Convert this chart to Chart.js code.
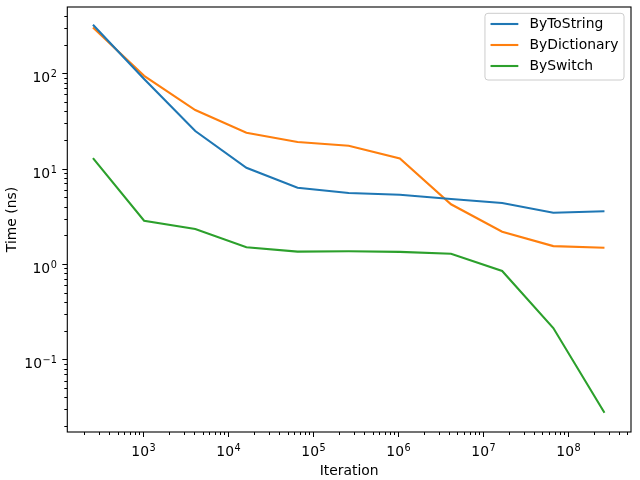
<!DOCTYPE html>
<html>
<head>
<meta charset="utf-8">
<script src="https://cdn.jsdelivr.net/npm/chart.js@4.4.1/dist/chart.umd.min.js"></script>
<style>
  html, body { margin: 0; padding: 0; background: #fff; }
  #wrap { width: 640px; height: 480px; position: relative; }
</style>
</head>
<body>
<div id="wrap"><canvas id="chart"></canvas></div>
<script>
const iterations = [256, 1024, 4096, 16384, 65536, 262144, 1048576, 4194304, 16777216, 67108864, 268435456];
const byToString = [323, 87, 24.8, 10.2, 6.3, 5.55, 5.33, 4.8, 4.36, 3.45, 3.57];
const byDictionary = [303, 94, 41.2, 23.8, 19.0, 17.4, 12.8, 4.23, 2.18, 1.54, 1.48];
const bySwitch = [12.9, 2.84, 2.33, 1.50, 1.35, 1.36, 1.34, 1.28, 0.845, 0.213, 0.0275];
const seriesNames = ['ByToString', 'ByDictionary', 'BySwitch'];
const seriesColors = ['#1f77b4', '#ff7f0e', '#2ca02c'];

const xRange = [127.7, 5.51e8];
const yRange = [0.0173, 496];

const FONT = 'DejaVu Sans';
const FS = 13.9;
const FS_EXP = 9.7;

// decade + minor ticks like matplotlib's LogLocator
const logTicks = (scale) => {
    const ticks = [];
    const lo = Math.floor(Math.log10(scale.min));
    const hi = Math.ceil(Math.log10(scale.max));
    for (let e = lo; e <= hi; e++) {
        for (let m = 1; m <= 9; m++) {
            const v = m * Math.pow(10, e);
            if (v >= scale.min && v <= scale.max) {
                ticks.push({ value: v, major: m === 1, exp: e });
            }
        }
    }
    scale.ticks = ticks;
};

// "10" with a raised, smaller exponent, like mathtext
const drawPow = (ctx, exp, x, baseline, align) => {
    const expStr = String(exp).replace('-', '\u2212');
    ctx.font = FS + 'px "' + FONT + '"';
    const wb = ctx.measureText('10').width;
    ctx.font = FS_EXP + 'px "' + FONT + '"';
    const we = ctx.measureText(expStr).width;
    const total = wb + we + 0.5;
    let left = align === 'right' ? x - total : x - total / 2;
    ctx.textAlign = 'left';
    ctx.textBaseline = 'alphabetic';
    ctx.font = FS + 'px "' + FONT + '"';
    ctx.fillText('10', left, baseline);
    ctx.font = FS_EXP + 'px "' + FONT + '"';
    ctx.fillText(expStr, left + wb + 0.5, baseline - 5.2);
};

const mplFrame = {
    id: 'mplFrame',
    afterDraw(chart) {
        const ctx = chart.ctx;
        const a = chart.chartArea;
        ctx.save();
        ctx.strokeStyle = '#000';
        ctx.lineWidth = 1.1;
        ctx.strokeRect(a.left, a.top, a.right - a.left, a.bottom - a.top);
        // tick marks and labels
        ctx.lineWidth = 1;
        ctx.fillStyle = '#000';
        const xs = chart.scales.x;
        xs.ticks.forEach(t => {
            const px = Math.round(xs.getPixelForValue(t.value)) + 0.5;
            const len = t.major ? 5 : 3;
            ctx.beginPath();
            ctx.moveTo(px, a.bottom);
            ctx.lineTo(px, a.bottom + len);
            ctx.stroke();
            if (t.major) drawPow(ctx, t.exp, px, a.bottom + 23.7, 'center');
        });
        const ys = chart.scales.y;
        ys.ticks.forEach(t => {
            const py = Math.round(ys.getPixelForValue(t.value)) + 0.5;
            const len = t.major ? 5 : 3;
            ctx.beginPath();
            ctx.moveTo(a.left, py);
            ctx.lineTo(a.left - len, py);
            ctx.stroke();
            if (t.major) drawPow(ctx, t.exp, a.left - 10.5, py + 8.2, 'right');
        });

        // legend box, upper right
        ctx.font = FS + 'px "' + FONT + '"';
        const textW = Math.max(...chart.data.datasets.map(d => ctx.measureText(d.label).width));
        const pad = 0.4 * FS, handle = 2 * FS, gap = 0.8 * FS, rowH = 21;
        const boxW = pad + handle + gap + textW + pad;
        const boxH = 66.7;
        const bx = a.right - 7 - boxW;
        const by = a.top + 6.3;
        ctx.beginPath();
        ctx.roundRect(bx, by, boxW, boxH, 3);
        ctx.fillStyle = 'rgba(255,255,255,0.8)';
        ctx.fill();
        ctx.strokeStyle = '#cccccc';
        ctx.lineWidth = 1;
        ctx.stroke();
        ctx.textBaseline = 'middle';
        ctx.textAlign = 'left';
        chart.data.datasets.forEach((d, i) => {
            const cy = by + 10.7 + i * rowH;
            ctx.strokeStyle = d.borderColor;
            ctx.lineWidth = 2.1;
            ctx.beginPath();
            ctx.moveTo(bx + pad, cy);
            ctx.lineTo(bx + pad + handle, cy);
            ctx.stroke();
            ctx.fillStyle = '#000';
            ctx.fillText(d.label, bx + pad + handle + gap, cy + 0.5);
        });
        ctx.restore();
    }
};

const seriesData = [byToString, byDictionary, bySwitch];

new Chart(document.getElementById('chart').getContext('2d'), {
    type: 'line',
    data: {
        datasets: seriesData.map((vals, i) => ({
            label: seriesNames[i],
            data: iterations.map((x, j) => ({ x: x, y: vals[j] })),
            borderColor: seriesColors[i],
            backgroundColor: seriesColors[i],
            borderWidth: 2.1,
            pointRadius: 0,
            tension: 0,
            fill: false
        }))
    },
    options: {
        responsive: true,
        maintainAspectRatio: false,
        animation: false,
        layout: { padding: { top: 7, right: 9, left: 0, bottom: 0 } },
        scales: {
            x: {
                type: 'logarithmic',
                min: xRange[0],
                max: xRange[1],
                afterBuildTicks: logTicks,
                afterFit: (scale) => {
                    scale.height = 48;
                    scale.paddingLeft = 0;
                    scale.paddingRight = 0;
                },
                grid: { display: false, drawTicks: false },
                border: { display: false },
                ticks: { display: false },
                title: {
                    display: true,
                    text: 'Iteration',
                    color: '#000',
                    padding: { top: 0, bottom: 0 },
                    font: { family: FONT, size: FS }
                }
            },
            y: {
                type: 'logarithmic',
                min: yRange[0],
                max: yRange[1],
                afterBuildTicks: logTicks,
                afterFit: (scale) => {
                    scale.width = 67.3;
                    scale.paddingTop = 0;
                    scale.paddingBottom = 0;
                },
                grid: { display: false, drawTicks: false },
                border: { display: false },
                ticks: { display: false },
                title: {
                    display: true,
                    text: 'Time (ns)',
                    color: '#000',
                    padding: { top: 4, bottom: 0 },
                    font: { family: FONT, size: FS }
                }
            }
        },
        plugins: {
            legend: { display: false },
            tooltip: { enabled: false }
        }
    },
    plugins: [mplFrame]
});
</script>
</body>
</html>
